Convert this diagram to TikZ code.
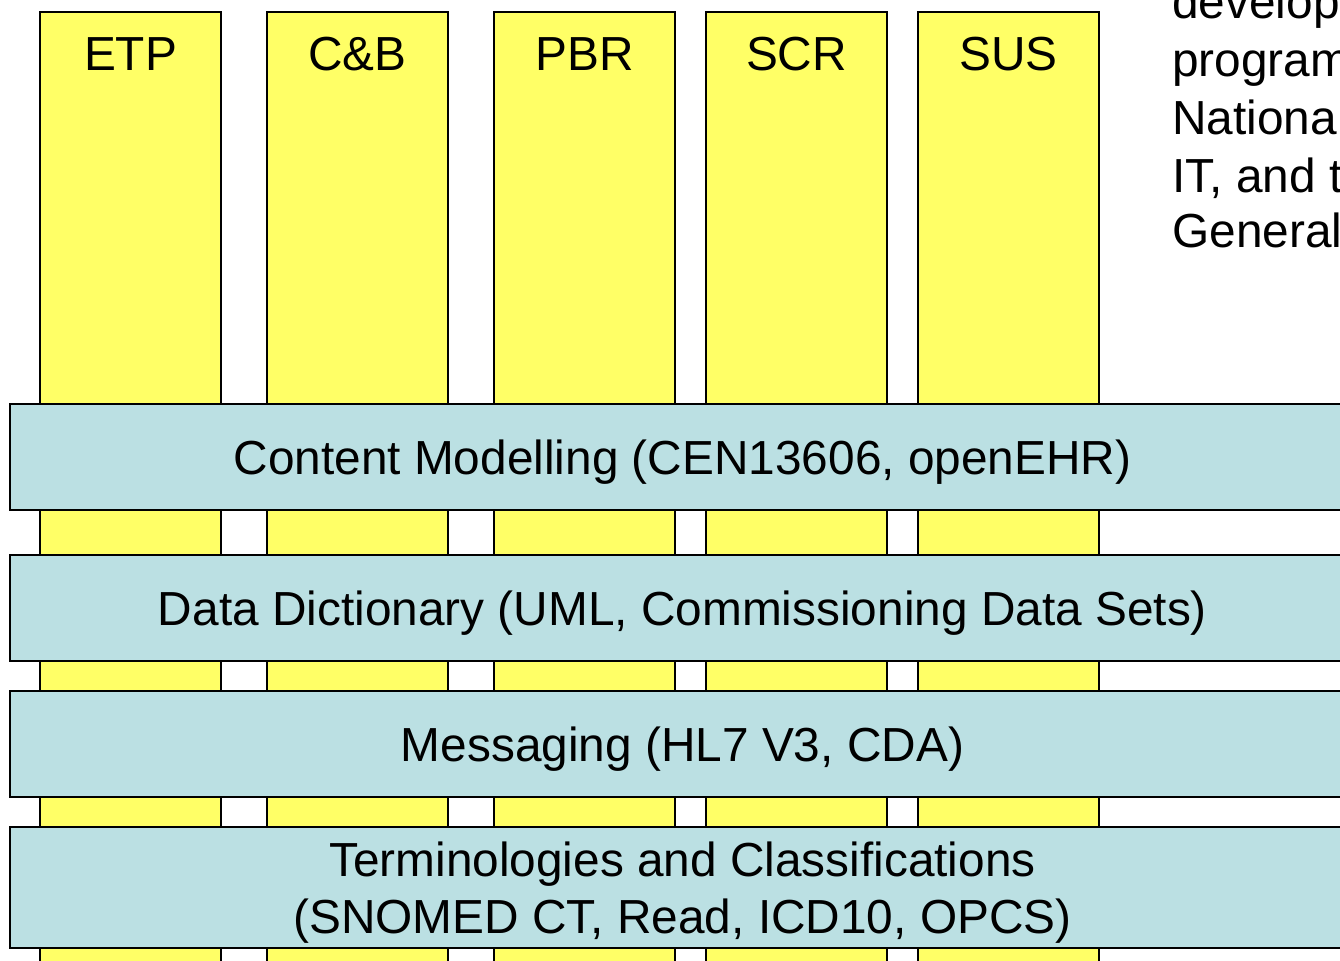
\documentclass[tikz,border=0pt]{standalone}
\usepackage{fontspec}
\setmainfont{Liberation Sans}
\usepackage{xcolor}
\definecolor{colyellow}{HTML}{FFFF66}
\definecolor{barblue}{HTML}{BBE0E3}
\tikzset{
  colbox/.style={draw=black, fill=colyellow, line width=0.8pt},
  collabel/.style={anchor=base, inner sep=0pt, font=\fontsize{27.2}{33}\selectfont},
  layerbar/.style={draw=black, fill=barblue, line width=0.8pt, minimum width=26.9cm,
    align=center, inner sep=0pt, text depth=0pt, font=\fontsize{27.2}{32.3}\selectfont},
  sidetext/.style={anchor=base west, inner sep=0pt, font=\fontsize{27.2}{33}\selectfont}
}
\begin{document}
\begin{tikzpicture}[x=0.02cm, y=-0.02cm]
  \useasboundingbox (0,0) rectangle (1340,961);
  \clip (0,0) rectangle (1340,961);
  % columns
  \foreach \x/\name/\txt in {40/etp/ETP, 267/cb/C\&B, 494/pbr/PBR, 706/scr/SCR, 918/sus/SUS} {
    \draw[colbox] (\x,12) rectangle ++(181,980);
    \node[collabel] (\name) at (\x+90.5,70) {\txt};
  }
  % layers
  \node[layerbar, minimum height=2.12cm] (content) at (682.5,457) {Content Modelling (CEN13606, openEHR)};
  \node[layerbar, minimum height=2.12cm] (dict) at (682.5,608) {Data Dictionary (UML, Commissioning Data Sets)};
  \node[layerbar, minimum height=2.12cm] (msg) at (682.5,744) {Messaging (HL7 V3, CDA)};
  \node[layerbar, minimum height=2.42cm] (term) at (682.5,887.5) {Terminologies and Classifications\\(SNOMED CT, Read, ICD10, OPCS)};
  % side text
  \foreach \i/\y/\txt in {1/18/develop, 2/76/program, 3/134/National, 4/192/{IT, and t}, 5/247/General} {
    \node[sidetext] (side\i) at (1172,\y) {\txt};
  }
\end{tikzpicture}
\end{document}
